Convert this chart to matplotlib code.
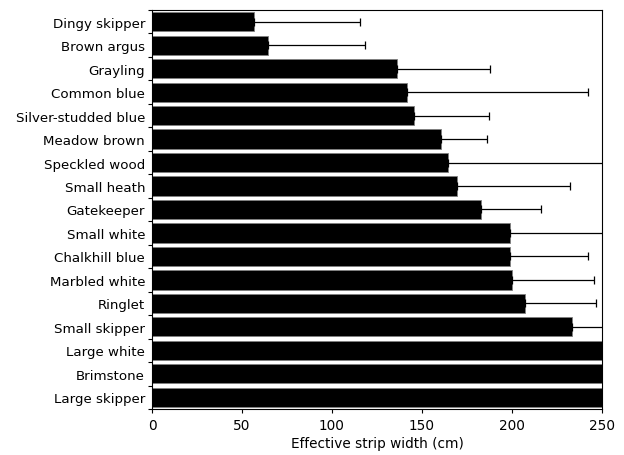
import matplotlib
matplotlib.use("Agg")
import matplotlib.pyplot as plt
import numpy as np

species = ["Dingy skipper", "Brown argus", "Grayling", "Common blue",
           "Silver-studded blue", "Meadow brown", "Speckled wood", "Small heath",
           "Gatekeeper", "Small white", "Chalkhill blue", "Marbled white",
           "Ringlet", "Small skipper", "Large white", "Brimstone", "Large skipper"]
width_cm = [56.7, 64.3, 136.3, 141.6, 145.7, 160.6, 164.3, 169.6,
            183.0, 198.7, 199.1, 200.2, 207.4, 233.3, 262.0, 268.0, 275.0]
upper_err = [115.6, 118.3, 188.0, 242.2, 187.4, 186.3, 290.0, 232.2,
             216.0, 300.0, 242.4, 245.6, 246.9, 280.0, 320.0, 330.0, 340.0]
xticks = [0, 50, 100, 150, 200, 250]

plt.rcParams['font.family'] = ['DejaVu Sans']
fig = plt.figure(figsize=(6.24, 4.56), dpi=100)
ax = fig.add_axes([0.2436, 0.1009, 0.7211, 0.875])

y = np.arange(len(species))
err = np.array(upper_err) - np.array(width_cm)
ax.barh(y, width_cm, height=0.82, color='black', edgecolor='#808080', linewidth=0.6, zorder=2)
ax.errorbar(width_cm, y, xerr=[np.zeros(len(err)), err], fmt='none',
            ecolor='black', elinewidth=0.9, capsize=3, capthick=0.9, zorder=3)

ax.set_xlim(0, 250)
ax.set_ylim(len(species) - 0.5, -0.5)
ax.set_xticks(xticks)
ax.set_yticks(y)
ax.set_yticklabels(species, fontsize=9.6)
ax.tick_params(axis='y', which='major', length=0, pad=5)
ax.set_yticks(np.arange(-0.5, len(species), 1.0), minor=True)
ax.tick_params(axis='y', which='minor', length=3, width=0.8)
ax.tick_params(axis='x', labelsize=9.8, length=3, width=0.8)
ax.set_xlabel("Effective strip width (cm)", fontsize=9.8, labelpad=3)
for s in ax.spines.values():
    s.set_linewidth(0.8)

fig.savefig("out.png", dpi=100)
